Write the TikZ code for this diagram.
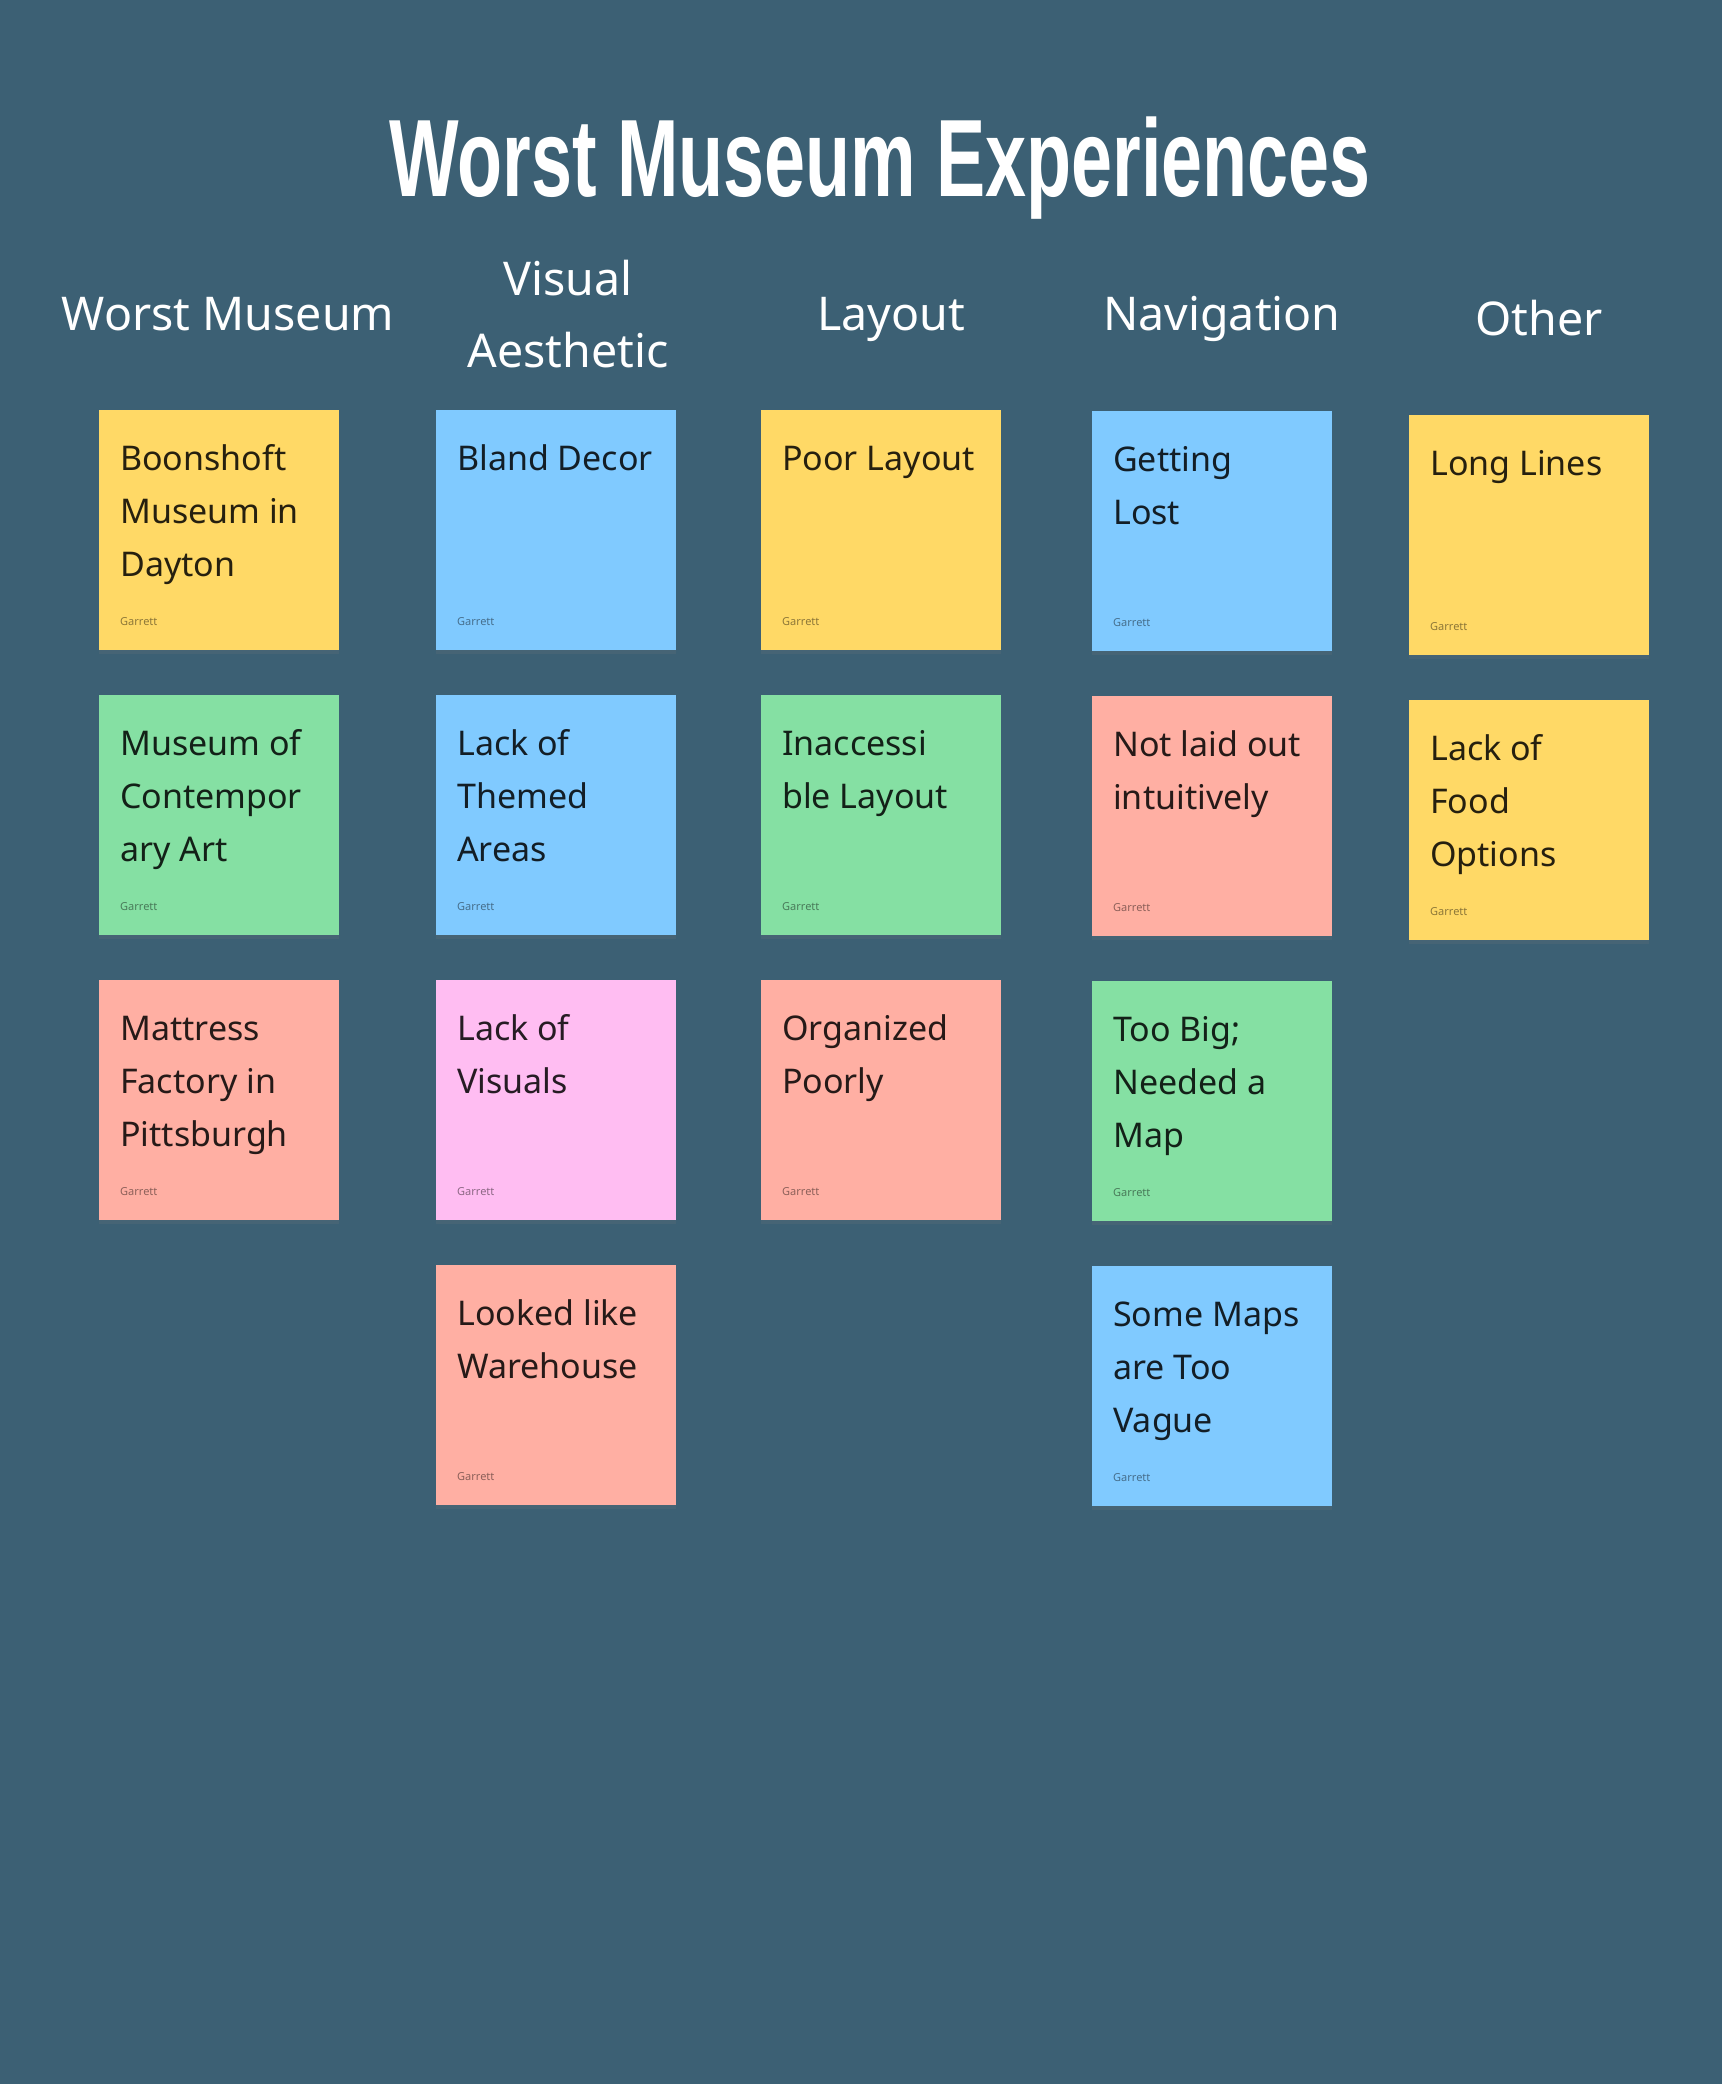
\documentclass[tikz,border=0pt]{standalone}
\usepackage{fontspec}
\setmainfont{Noto Sans}
\newfontfamily\titlefont[FakeStretch=0.67]{Liberation Sans}
\usetikzlibrary{positioning,shadows}
\definecolor{board}{HTML}{3C6074}
\definecolor{stickyyellow}{HTML}{FFD966}
\definecolor{stickygreen}{HTML}{85E0A3}
\definecolor{stickyblue}{HTML}{80CAFF}
\definecolor{stickyred}{HTML}{FFAFA3}
\definecolor{stickypink}{HTML}{FFBDF2}
\tikzset{
  note/.style={rectangle, anchor=north west, minimum width=240pt, minimum height=240pt, inner sep=0pt, drop shadow={shadow xshift=0pt, shadow yshift=-4pt, opacity=0.15}},
  notetext/.style={anchor=base west, inner sep=0pt, text=black, text opacity=0.85, font=\fontsize{34}{53}\selectfont},
  author/.style={anchor=base west, inner sep=0pt, text=black, text opacity=0.45, font=\fontsize{11}{13}\selectfont},
  heading/.style={anchor=base, inner sep=0pt, text=white, font=\fontsize{46.5}{72}\selectfont},
  boardtitle/.style={anchor=base, inner sep=0pt, text=white, font=\titlefont\bfseries\fontsize{110}{120}\selectfont}}
% one sticky note: name, x, y, colour, text
\newcommand{\sticky}[5]{%
  \node[note, fill=#4] (#1) at (#2,#3) {};
  \node[notetext] (#1txt) at ([shift={(21,60)}]#1.north west) {\parbox[t]{215pt}{\raggedright #5}};
  \node[author] (#1by) at ([shift={(21,215)}]#1.north west) {Garrett};}

\begin{document}
\begin{tikzpicture}[x=1pt, y=-1pt]
\useasboundingbox (0,0) rectangle (1722,2084);
\fill[board] (0,0) rectangle (1722,2084);
\node[boardtitle] (title) at (880,197) {Worst Museum Experiences};

% column headings
\node[heading] (hworst) at (228,330) {Worst Museum};
\node[heading] (hvisual) at (568,295) {\parbox[t]{300pt}{\centering Visual\\Aesthetic}};
\node[heading] (hlayout) at (891,330) {Layout};
\node[heading] (hnav) at (1222,330) {Navigation};
\node[heading] (hother) at (1539,335) {Other};

% Worst Museum
\sticky{worsta}{99}{410}{stickyyellow}{Boonshoft\\Museum in\\Dayton}
\sticky{worstb}{99}{695}{stickygreen}{Museum of\\Contempor\\ary Art}
\sticky{worstc}{99}{980}{stickyred}{Mattress\\Factory in\\Pittsburgh}
% Visual Aesthetic
\sticky{visa}{436}{410}{stickyblue}{Bland Decor}
\sticky{visb}{436}{695}{stickyblue}{Lack of\\Themed\\Areas}
\sticky{visc}{436}{980}{stickypink}{Lack of\\Visuals}
\sticky{visd}{436}{1265}{stickyred}{Looked like\\Warehouse}
% Layout
\sticky{laya}{761}{410}{stickyyellow}{Poor Layout}
\sticky{layb}{761}{695}{stickygreen}{Inaccessi\\ble Layout}
\sticky{layc}{761}{980}{stickyred}{Organized\\Poorly}
% Navigation
\sticky{nava}{1092}{411}{stickyblue}{Getting\\Lost}
\sticky{navb}{1092}{696}{stickyred}{Not laid out\\intuitively}
\sticky{navc}{1092}{981}{stickygreen}{Too Big;\\Needed a\\Map}
\sticky{navd}{1092}{1266}{stickyblue}{Some Maps\\are Too\\Vague}
% Other
\sticky{otha}{1409}{415}{stickyyellow}{Long Lines}
\sticky{othb}{1409}{700}{stickyyellow}{Lack of\\Food\\Options}
\end{tikzpicture}
\end{document}
